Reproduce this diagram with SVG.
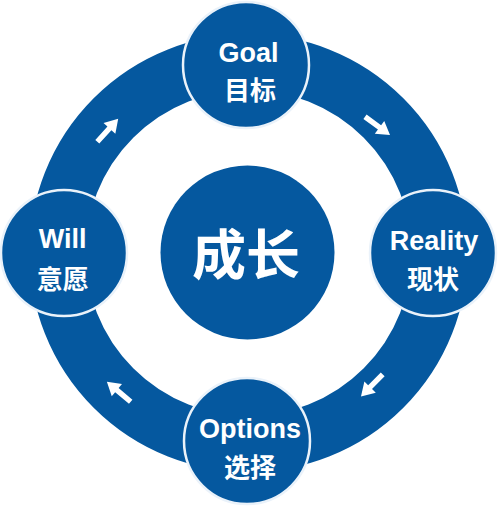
<svg xmlns="http://www.w3.org/2000/svg" width="500" height="507" viewBox="0 0 500 507">
  <style>
    .ring { fill: none; stroke: #05589F; stroke-width: 56; }
    .node { fill: #05589F; stroke: #EAF2FA; stroke-width: 2.5; }
    .core { fill: #05589F; }
    .arrow { fill: #FFFFFF; }
    .lat { font-family: "Liberation Sans", Arial, sans-serif; font-weight: bold; font-size: 27px; fill: #FFFFFF; text-anchor: middle; }
    .cjk { font-family: "Noto Sans CJK SC", "Liberation Sans", sans-serif; font-weight: bold; font-size: 26px; fill: #FFFFFF; text-anchor: middle; }
    .big { font-family: "Noto Sans CJK SC", "Liberation Sans", sans-serif; font-weight: bold; font-size: 54px; fill: #FFFFFF; text-anchor: middle; }
  </style>
  <defs>
    <path id="arr" d="M0,-2.7 H18 V-8 L31,0 L18,8 V2.7 H0 Z"/>
  </defs>
  <rect width="500" height="507" fill="#FFFFFF"/>

  <g id="connectors">
    <circle class="ring" cx="248.5" cy="253" r="191"/>
    <use href="#arr" class="arrow" transform="translate(97.3,141.7) rotate(-47.6)"/>
    <use href="#arr" class="arrow" transform="translate(365,116.7) rotate(36.2)"/>
    <use href="#arr" class="arrow" transform="translate(382.7,374.3) rotate(134.5)"/>
    <use href="#arr" class="arrow" transform="translate(130.7,401.7) rotate(-140.2)"/>
  </g>

  <g id="growth">
    <circle class="core" cx="247.5" cy="252.5" r="87"/>
    <text class="big" x="246" y="275">成长</text>
  </g>

  <g id="goal">
    <circle class="node" cx="246" cy="65" r="63"/>
    <text class="lat" x="248.5" y="61.5">Goal</text>
    <text class="cjk" x="250" y="99.5">目标</text>
  </g>

  <g id="reality">
    <circle class="node" cx="433" cy="253" r="63"/>
    <text class="lat" x="434" y="250">Reality</text>
    <text class="cjk" x="433" y="288.5">现状</text>
  </g>

  <g id="options">
    <circle class="node" cx="247" cy="441" r="63"/>
    <text class="lat" x="250" y="438">Options</text>
    <text class="cjk" x="250" y="476.5">选择</text>
  </g>

  <g id="will">
    <circle class="node" cx="64" cy="253" r="63"/>
    <text class="lat" x="62.7" y="248">Will</text>
    <text class="cjk" x="62.7" y="288.5">意愿</text>
  </g>
</svg>
